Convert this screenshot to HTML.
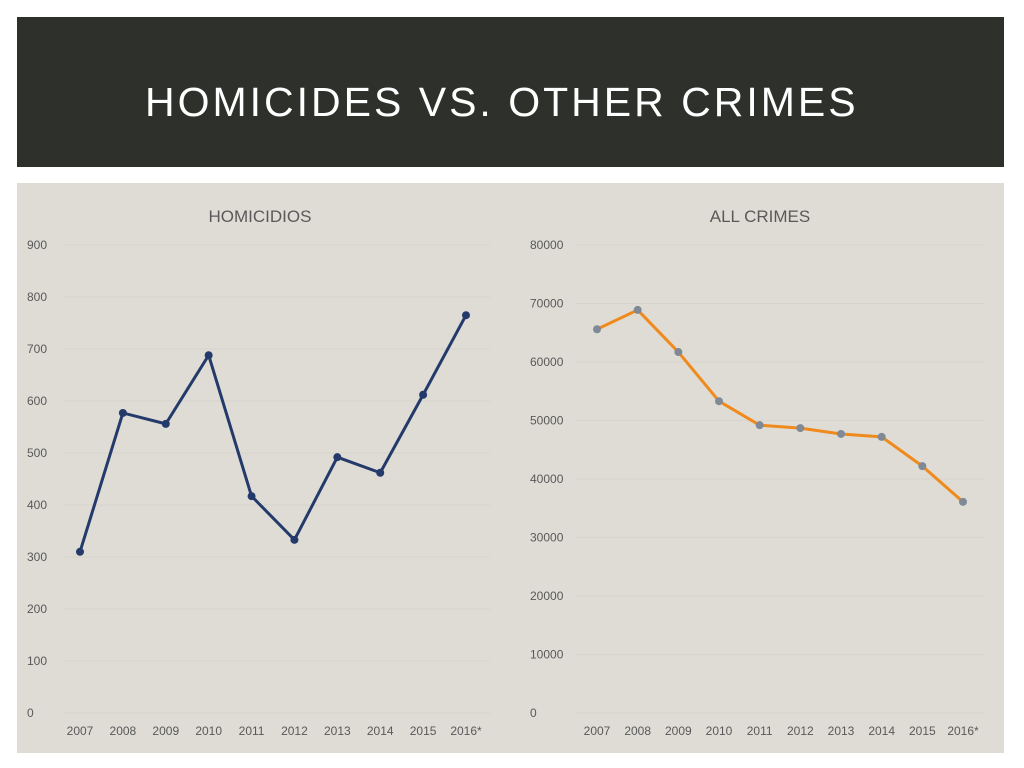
<!DOCTYPE html>
<html><head><meta charset="utf-8"><style>
body{margin:0;width:1024px;height:768px;background:#fff;overflow:hidden;font-family:"Liberation Sans",sans-serif}
#hdr{position:absolute;left:17px;top:17px;width:987px;height:150px;background:#2e302b}
#title{position:absolute;left:128px;top:60px;color:#fff;font-size:41px;letter-spacing:3px;line-height:50px;white-space:nowrap}
#panel{position:absolute;left:17px;top:183px;width:987px;height:570px;background:#dedcd5}
svg{position:absolute;left:0;top:0}
</style></head><body>
<div id="hdr"><div id="title">HOMICIDES VS. OTHER CRIMES</div></div>
<div id="panel"></div>
<svg id="svg" width="1024" height="768"></svg>
<script>
const years=["2007","2008","2009","2010","2011","2012","2013","2014","2015","2016*"];
const homicides=[310,577,556,688,417,333,492,462,612,765];
const crimes=[65600,68900,61700,53300,49200,48700,47700,47200,42200,36100];
const homTicks=[0,100,200,300,400,500,600,700,800,900];
const crimeTicks=[0,10000,20000,30000,40000,50000,60000,70000,80000];
const NS="http://www.w3.org/2000/svg";
const svg=document.getElementById('svg');
function mk(t,a,p){const e=document.createElementNS(NS,t);for(const k in a)e.setAttribute(k,a[k]);(p||svg).appendChild(e);return e;}
function chart(o){
  const g=mk('g',{});
  
  
  const y=v=>713-(v/o.max)*468;
  const x=i=>o.x0+i*(o.x1-o.x0)/(o.vals.length-1);
  const t=mk('text',{x:o.tx,y:222,'text-anchor':'middle','font-size':17,fill:'#595959'},g);t.textContent=o.title;
  
  
  o.ticks.forEach(v=>{
    const l=mk('line',{x1:o.gx0,x2:o.gx1,y1:y(v),y2:y(v),stroke:'#d6d4cd','stroke-width':1},g);
    
    
    const tt=mk('text',{x:o.lx,y:y(v)+4,'font-size':12,fill:'#595959'},g);tt.textContent=v;
    
    
  });
  years.forEach((yr,i)=>{
    const tt=mk('text',{x:x(i),y:735,'text-anchor':'middle','font-size':12,fill:'#595959'},g);tt.textContent=yr;
    
    
  });
  const pl=mk('polyline',{points:o.vals.map((v,i)=>x(i)+','+y(v)).join(' '),fill:'none',stroke:o.color,'stroke-width':3,'stroke-linejoin':'round'},g);
  
  
  o.vals.forEach((v,i)=>{
    const c=mk('circle',{cx:x(i),cy:y(v),r:4,fill:o.mcolor},g);
    
    
  });
}
chart({name:'homicides-chart',title:'HOMICIDIOS',tx:260,vals:homicides,max:900,ticks:homTicks,x0:80,x1:466,gx0:63,gx1:490,lx:27,color:'#243a6b',mcolor:'#243a6b'});
chart({name:'all-crimes-chart',title:'ALL CRIMES',tx:760,vals:crimes,max:80000,ticks:crimeTicks,x0:597,x1:963,gx0:575,gx1:985,lx:530,color:'#f08a1c',mcolor:'#7f8a96'});
</script>
</body></html>
